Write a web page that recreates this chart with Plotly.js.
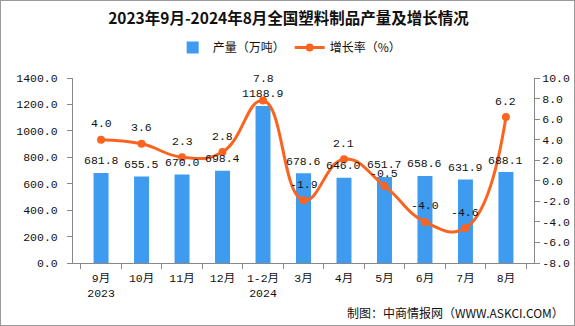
<!DOCTYPE html>
<html><head><meta charset="utf-8">
<script src="https://cdn.plot.ly/plotly-3.0.1.min.js"></script>
<style>html,body{margin:0;padding:0;background:#fff;}#c{width:575px;height:326px;box-sizing:border-box;border:1px solid #9a9a9a;}</style>
</head><body><div id="c"></div>
<script>
const categories = ["9月<br>2023","10月","11月","12月","1-2月<br>2024","3月","4月","5月","6月","7月","8月"];
const output = [681.8, 655.5, 670.0, 698.4, 1188.9, 678.6, 646.0, 651.7, 658.6, 631.9, 688.1];
const growth = [4.0, 3.6, 2.3, 2.8, 7.8, -1.9, 2.1, -0.5, -4.0, -4.6, 6.2];
const leftTicks = [0,200,400,600,800,1000,1200,1400];
const rightTicks = [-8,-6,-4,-2,0,2,4,6,8,10];

// label offsets (pixels above the point), as placed in the reference to avoid collisions
const growthLabelShift = [16,16,16,16,22,16,16,12,16,16,16];

const fontMono = "'Liberation Mono', 'Noto Sans CJK SC', monospace";
const tf = {family:fontMono, size:11.5, color:'#111'};
const traces = [
  {type:'bar', name:'产量（万吨）', x:categories, y:output, marker:{color:'#3f9bef'}, width:0.37, hoverinfo:'skip'},
  {type:'scatter', mode:'lines+markers', name:'增长率（%）', x:categories, y:growth, yaxis:'y2',
   line:{color:'#fa6420', width:3, shape:'spline', smoothing:1.3}, marker:{color:'#fa6420', size:8}}
];
const barLabels = output.map((v,i)=>({x:i, y:v, xref:'x', yref:'y', text:v.toFixed(1), showarrow:false,
  yanchor:'middle', yshift:12, font:tf}));
const lineLabels = growth.map((v,i)=>({x:i, y:v, xref:'x', yref:'y2', text:v.toFixed(1), showarrow:false,
  yanchor:'middle', yshift:growthLabelShift[i], font:tf}));
const layout = {
  width:575, height:326, margin:{l:72, r:42, t:77, b:64},
  paper_bgcolor:'rgba(0,0,0,0)', plot_bgcolor:'#fff',
  title:{text:'<b>2023年9月-2024年8月全国塑料制品产量及增长情况</b>', x:0.5, xanchor:'center', y:0.945, yanchor:'middle',
    font:{family:"'Noto Sans CJK SC', serif", size:15.5, color:'#111'}},
  showlegend:true,
  legend:{orientation:'h', x:0.47, xanchor:'center', y:1.165, yanchor:'middle', font:{family:"'Noto Sans CJK SC'", size:12, color:'#111'}, traceorder:'normal', itemwidth:30},
  bargap:0.6,
  xaxis:{type:'category', showline:true, linecolor:'#888', ticks:'outside', tickson:'boundaries', ticklen:5, tickcolor:'#888', tickangle:0,
    ticklabelstandoff:4, tickfont:{family:fontMono, size:11.5, color:'#111'}, showgrid:false, fixedrange:true},
  yaxis:{range:[0,1400], tickvals:leftTicks, ticktext:leftTicks.map(v=>v.toFixed(1)), showline:true, linecolor:'#888', ticks:'outside', ticklen:5, tickcolor:'#888',
    ticklabelstandoff:7, showgrid:false, zeroline:false, tickfont:tf},
  yaxis2:{range:[-8,10], overlaying:'y', side:'right', tickvals:rightTicks, ticktext:rightTicks.map(v=>v.toFixed(1)), showline:true, linecolor:'#888', ticks:'outside', ticklen:5, tickcolor:'#888',
    showgrid:false, zeroline:false, tickfont:tf},
  annotations:[...barLabels, ...lineLabels,
    {text:'制图：中商情报网（WWW.ASKCI.COM）', xref:'paper', yref:'paper', x:1.07, xanchor:'right', y:-0.265, yanchor:'middle', showarrow:false,
    font:{family:"'Noto Sans CJK SC'", size:12, color:'#111'}}]
};
Plotly.newPlot('c', traces, layout, {displayModeBar:false, staticPlot:true});
</script></body></html>
